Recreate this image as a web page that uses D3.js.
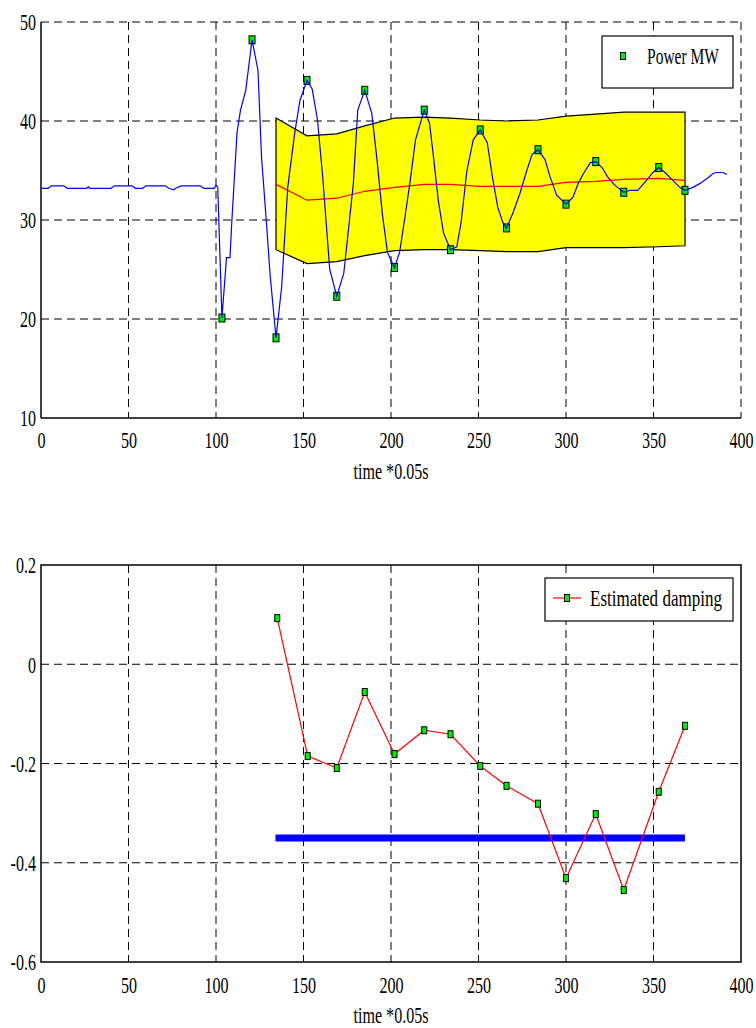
<!DOCTYPE html>
<html><head><meta charset="utf-8">
<script src="https://cdn.jsdelivr.net/npm/d3@7"></script>
<style>
html,body{margin:0;padding:0;background:#fff;}
svg{display:block;}
text{font-family:"Liberation Serif","Times New Roman",Times,serif;}
</style></head>
<body>
<svg id="c" width="756" height="1028"></svg>
<script>
// ---------- data ----------
const xTicks = [0,50,100,150,200,250,300,350,400];
const powerTicks = [10,20,30,40,50];
const dampTicks = [0.2,0,-0.2,-0.4,-0.6];
const dampTickLabels = ["0.2","0","-0.2","-0.4","-0.6"];

const powerTime = [0,4,6,13,15,26,27,28,40,42,52,54,58,60,71,73,76,77,80,91,93,99,100,101,103.4,106,108,109,112,114,117,119.4,120.6,124,126,129,131,134.3,137.5,141,145,148,152,155,158,161,165,169,173,175.5,178.5,181,185,189,192,195,198,202,205,208,211,214,219,222,224,227,230,234,237.6,240,243.4,247,251,255,258,261,264,266,269.7,273.7,277.6,280.6,284,288,291,294.7,300,304,307,310,314,317,320.6,324,328,333,336.6,341,346,349.7,353,356.6,361,365,368,372.6,376.6,380.6,384,386,389.7,392];
const powerValue = [33.2,33.2,33.45,33.45,33.2,33.2,33.35,33.2,33.2,33.45,33.45,33.2,33.2,33.45,33.45,33.2,33.05,33.2,33.45,33.45,33.2,33.2,33.5,33.3,20.1,26.2,26.2,29.7,38.8,41.1,43.1,46.5,48.2,45.1,36.4,29.3,24.3,18.1,23.2,33.3,38.8,42.1,44.1,43.2,40.1,34.3,25.0,22.3,24.6,28.7,33.7,41.1,43.1,40.8,36.1,30.7,26.7,25.2,26.8,30.3,34.0,38.1,41.1,39.8,36.8,32.0,28.7,27.0,27.3,29.7,35.0,38.1,39.1,37.8,34.3,31.3,29.7,29.2,30.7,32.7,35.0,36.6,37.1,36.1,34.3,32.5,31.6,32.3,33.7,34.7,35.8,35.9,35.3,34.3,33.5,32.8,33.0,33.0,34.0,34.8,35.3,34.8,34.0,33.3,33.0,33.3,33.7,34.2,34.7,34.8,34.8,34.6];

const peakTime = [103.4,120.6,134.3,152,169,185,202,219,234,251,266,284,300,317,333,353,368];
const peakValue = [20.1,48.2,18.1,44.1,22.3,43.1,25.2,41.1,27.0,39.1,29.2,37.1,31.6,35.9,32.8,35.3,33.0];

const bandTime  = [134.3,152,169,185,202,219,234,251,266,284,300,317,333,353,368];
const bandUpper = [40.3,38.5,38.7,39.5,40.3,40.4,40.3,40.1,40.0,40.1,40.5,40.7,40.9,40.9,40.9];
const bandLower = [27.0,25.6,25.8,26.4,26.9,27.0,27.0,26.9,26.8,26.8,27.2,27.2,27.2,27.3,27.4];
const bandMean  = [33.6,32.0,32.2,32.9,33.3,33.6,33.6,33.4,33.4,33.4,33.8,33.9,34.1,34.2,34.0];

const dampTime  = [135,152.4,169,185,202,219,234,251,266,284,300,317,333,353,368];
const dampValue = [0.093,-0.185,-0.209,-0.056,-0.181,-0.133,-0.141,-0.205,-0.245,-0.281,-0.431,-0.302,-0.455,-0.257,-0.124];
const thresholdTime = [134,368];
const thresholdValue = [-0.35,-0.35];

// ---------- layout ----------
const svg = d3.select("#c");
const FS = 23, SX = 0.7;
const x = d3.scaleLinear().domain([0,400]).range([41,741]);
const yTop = d3.scaleLinear().domain([10,50]).range([418,22]);
const yBot = d3.scaleLinear().domain([-0.6,0.2]).range([962,565]);
const dash = "8,5";

function styleAxis(g, isLeft){
  g.select(".domain").remove();
  g.selectAll(".tick line").remove();
  g.attr("font-family",null);
  g.selectAll("text").attr("font-size",FS).attr("fill","#000")
    .attr("transform",`scale(${SX},1)`);
  if(isLeft){ g.selectAll("text").attr("x",-5/SX).attr("dy","0.34em"); }
}

// ===== TOP CHART =====
const topG = svg.append("g");
topG.append("g").selectAll("line").data(xTicks.slice(1)).join("line")
  .attr("x1",d=>x(d)).attr("x2",d=>x(d)).attr("y1",yTop(50)).attr("y2",yTop(10))
  .attr("stroke","#000").attr("stroke-dasharray",dash).attr("stroke-width",1);
topG.append("g").selectAll("line").data(powerTicks.slice(1)).join("line")
  .attr("x1",x(0)).attr("x2",x(400)).attr("y1",d=>yTop(d)).attr("y2",d=>yTop(d))
  .attr("stroke","#000").attr("stroke-dasharray",dash).attr("stroke-width",1);

const bandData = bandTime.map((t,i)=>({t, u:bandUpper[i], l:bandLower[i], m:bandMean[i]}));
topG.append("path").datum(bandData)
  .attr("d", d3.area().x(d=>x(d.t)).y0(d=>yTop(d.l)).y1(d=>yTop(d.u)))
  .attr("fill","#ffff00").attr("stroke","none");
topG.append("path").datum(bandData)
  .attr("d", d=>{
     const up = d.map(p=>[x(p.t),yTop(p.u)]);
     const lo = d.slice().reverse().map(p=>[x(p.t),yTop(p.l)]);
     return d3.line()(up.concat(lo)) + "Z";
  })
  .attr("fill","none").attr("stroke","#000").attr("stroke-width",1.2);
topG.append("path").datum(bandData)
  .attr("d", d3.line().x(d=>x(d.t)).y(d=>yTop(d.m)))
  .attr("fill","none").attr("stroke","#ff0000").attr("stroke-width",1.2);

topG.append("g").selectAll("rect").data(peakTime.map((t,i)=>[t,peakValue[i]])).join("rect")
  .attr("x",d=>x(d[0])-3).attr("y",d=>yTop(d[1])-4).attr("width",6).attr("height",8)
  .attr("fill","#00ee00").attr("stroke","#000").attr("stroke-width",1);

topG.append("path").datum(powerTime.map((t,i)=>[t,powerValue[i]]))
  .attr("d", d3.line().x(d=>x(d[0])).y(d=>yTop(d[1])))
  .attr("fill","none").attr("stroke","#0000ff").attr("stroke-width",1.2);

topG.append("line").attr("x1",x(0)).attr("x2",x(0)).attr("y1",yTop(50)).attr("y2",yTop(10)).attr("stroke","#000").attr("stroke-width",1.5);
topG.append("line").attr("x1",x(0)).attr("x2",x(400)).attr("y1",yTop(10)).attr("y2",yTop(10)).attr("stroke","#000").attr("stroke-width",1.5);
topG.append("g").attr("transform",`translate(0,${yTop(10)})`)
  .call(d3.axisBottom(x).tickValues(xTicks).tickSize(0).tickPadding(0))
  .call(g=>{styleAxis(g,false); g.selectAll("text").attr("y",30).attr("dy",null);});
topG.append("g").attr("transform",`translate(${x(0)},0)`)
  .call(d3.axisLeft(yTop).tickValues(powerTicks).tickSize(0).tickFormat(d3.format("d")))
  .call(g=>styleAxis(g,true));
topG.append("text").attr("transform",`translate(391,479) scale(${SX},1)`)
  .attr("text-anchor","middle").attr("font-size",FS).text("time *0.05s");

const lg1 = topG.append("g");
lg1.append("rect").attr("x",602).attr("y",36).attr("width",131).attr("height",52)
  .attr("fill","#fff").attr("stroke","#000").attr("stroke-width",1.2);
lg1.append("rect").attr("x",620.5).attr("y",52.5).attr("width",5).attr("height",7)
  .attr("fill","#00ee00").attr("stroke","#000").attr("stroke-width",1);
lg1.append("text").attr("transform",`translate(647,64) scale(${SX},1)`)
  .attr("font-size",FS).attr("textLength",72/SX).attr("lengthAdjust","spacingAndGlyphs").text("Power MW");

// ===== BOTTOM CHART =====
const botG = svg.append("g");
botG.append("g").selectAll("line").data(xTicks.slice(1,-1)).join("line")
  .attr("x1",d=>x(d)).attr("x2",d=>x(d)).attr("y1",yBot(0.2)).attr("y2",yBot(-0.6))
  .attr("stroke","#000").attr("stroke-dasharray",dash).attr("stroke-width",1);
botG.append("g").selectAll("line").data([0,-0.2,-0.4]).join("line")
  .attr("x1",x(0)).attr("x2",x(400)).attr("y1",d=>yBot(d)).attr("y2",d=>yBot(d))
  .attr("stroke","#000").attr("stroke-dasharray",dash).attr("stroke-width",1);
botG.append("rect").attr("x",x(0)).attr("y",yBot(0.2)).attr("width",x(400)-x(0)).attr("height",yBot(-0.6)-yBot(0.2))
  .attr("fill","none").attr("stroke","#000").attr("stroke-width",1.5);

botG.append("path").datum(thresholdTime.map((t,i)=>[t,thresholdValue[i]]))
  .attr("d", d3.line().x(d=>x(d[0])).y(d=>yBot(d[1])))
  .attr("fill","none").attr("stroke","#0000ff").attr("stroke-width",7);

const dampData = dampTime.map((t,i)=>[t,dampValue[i]]);
botG.append("path").datum(dampData)
  .attr("d", d3.line().x(d=>x(d[0])).y(d=>yBot(d[1])))
  .attr("fill","none").attr("stroke","#ff0000").attr("stroke-width",1.2);
botG.append("g").selectAll("rect").data(dampData).join("rect")
  .attr("x",d=>x(d[0])-2.5).attr("y",d=>yBot(d[1])-3.5).attr("width",5).attr("height",7)
  .attr("fill","#00ee00").attr("stroke","#000").attr("stroke-width",1);

botG.append("g").attr("transform",`translate(0,${yBot(-0.6)})`)
  .call(d3.axisBottom(x).tickValues(xTicks).tickSize(0).tickPadding(0))
  .call(g=>{styleAxis(g,false); g.selectAll("text").attr("y",31).attr("dy",null);});
botG.append("g").attr("transform",`translate(${x(0)},0)`)
  .call(d3.axisLeft(yBot).tickValues(dampTicks).tickSize(0).tickFormat((d,i)=>dampTickLabels[i]))
  .call(g=>styleAxis(g,true));
botG.append("text").attr("transform",`translate(391,1023) scale(${SX},1)`)
  .attr("text-anchor","middle").attr("font-size",FS).text("time *0.05s");

const lg2 = botG.append("g");
lg2.append("rect").attr("x",545).attr("y",578).attr("width",188).attr("height",43)
  .attr("fill","#fff").attr("stroke","#000").attr("stroke-width",1.2);
lg2.append("line").attr("x1",553).attr("x2",581).attr("y1",598).attr("y2",598)
  .attr("stroke","#ff0000").attr("stroke-width",1.2);
lg2.append("rect").attr("x",564.5).attr("y",594.5).attr("width",5).attr("height",7)
  .attr("fill","#00ee00").attr("stroke","#000").attr("stroke-width",1);
lg2.append("text").attr("transform",`translate(590,606) scale(${SX},1)`)
  .attr("font-size",FS).attr("textLength",132/SX).attr("lengthAdjust","spacingAndGlyphs").text("Estimated damping");
</script>
</body></html>
